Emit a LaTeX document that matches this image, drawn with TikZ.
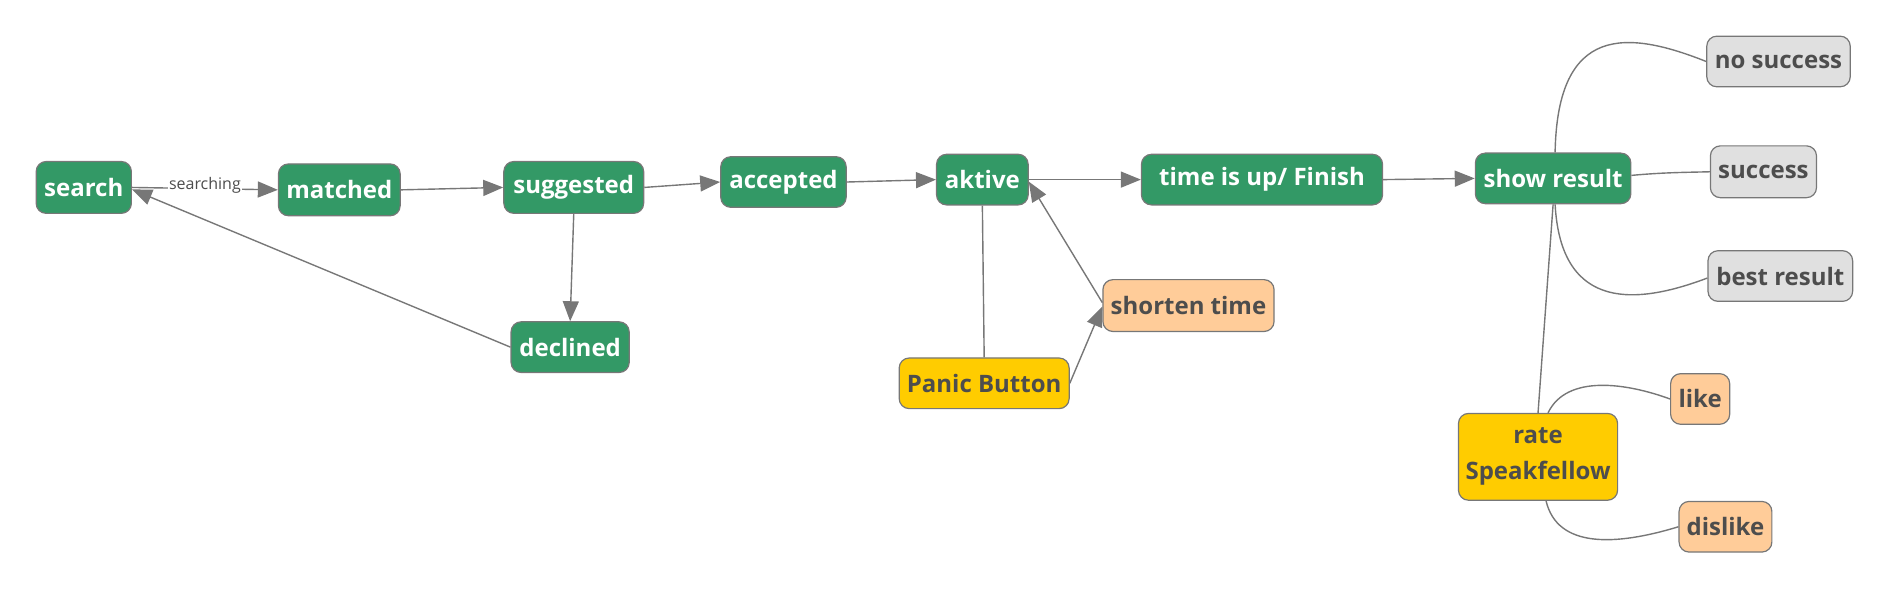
\documentclass[tikz,border=0pt]{standalone}
\usepackage{fontspec}
\setmainfont{Open Sans}
\usetikzlibrary{arrows.meta}
\definecolor{grn}{HTML}{339966}
\definecolor{ylw}{HTML}{FFCC00}
\definecolor{org}{HTML}{FFCC99}
\definecolor{gry}{HTML}{E0E0E0}
\definecolor{edge}{HTML}{777777}
\definecolor{txt}{HTML}{4D4D4D}
\begin{document}
\begin{tikzpicture}[x=0.60268pt,y=-0.60268pt,
  wh/.style 2 args={minimum width=#1*0.60268pt,minimum height=#2*0.60268pt},
  box/.style={draw=edge,line width=0.6pt,rounded corners=5pt,inner sep=0pt,align=center,font=\fontsize{12}{18}\selectfont\bfseries},
  gbox/.style={box,fill=grn,text=white},
  ybox/.style={box,fill=ylw,text=txt},
  obox/.style={box,fill=org,text=txt},
  xbox/.style={box,fill=gry,text=txt},
  conn/.style={draw=edge,line width=0.7pt},
  arr/.style={conn,-{Triangle[length=10pt,width=8pt]}}]
\useasboundingbox (0,0) rectangle (1568,490.3);
\node[gbox,wh={79}{43}] (search) at (69.5,155.5) {search};
\node[gbox,wh={101}{43}] (matched) at (281.5,157.5) {matched};
\node[gbox,wh={116}{43}] (suggested) at (476,155.5) {suggested};
\node[gbox,wh={104}{42}] (accepted) at (650,151) {accepted};
\node[gbox,wh={76}{42}] (aktive) at (815,149) {aktive};
\node[gbox,wh={200}{42}] (finish) at (1047,149) {time is up/ Finish};
\node[gbox,wh={129}{42}] (show) at (1288.5,148) {show result};
\node[xbox,wh={119}{42}] (nosucc) at (1475.5,51) {no success};
\node[xbox,wh={88}{43}] (succ) at (1463,142.5) {success};
\node[xbox,wh={120}{42}] (best) at (1477,229) {best result};
\node[gbox,wh={98}{42}] (declined) at (473,288) {declined};
\node[ybox,wh={141}{42}] (panic) at (816.5,318) {Panic Button};
\node[obox,wh={142}{43}] (shorten) at (986,253.5) {shorten time};
\node[ybox,wh={132}{72}] (rate) at (1276,379) {rate\\Speakfellow};
\node[obox,wh={49}{42}] (like) at (1410.5,331) {like};
\node[obox,wh={77}{42}] (dislike) at (1431.5,437) {dislike};

\draw[arr] (search.east) -- node[fill=white,inner sep=0.5pt,text=txt,font=\fontsize{8}{9}\selectfont,yshift=1.5pt] {searching} (matched.west);
\draw[arr] (matched.east) -- (suggested.west);
\draw[arr] (suggested.east) -- (accepted.west);
\draw[arr] (accepted.east) -- (aktive.west);
\draw[arr] (aktive.east) -- (finish.west);
\draw[arr] (finish.east) -- (show.west);
\draw[arr] (suggested.south) -- (declined.north);
\draw[arr] (declined.west) -- ([yshift=-1pt]search.east);
\draw[conn] (aktive.south) -- (panic.north);
\draw[arr] (panic.east) -- ([yshift=-0.5pt]shorten.west);
\draw[arr] ([yshift=1.5pt]shorten.west) -- ([yshift=-1pt]aktive.east);
\draw[conn] ([xshift=1pt]show.north) .. controls (1292,20) and (1350,25) .. (nosucc.west);
\draw[conn] ([yshift=1.5pt]show.east) .. controls (1380,143) and (1400,143) .. (succ.west);
\draw[conn] ([xshift=1pt]show.south) .. controls (1295,260) and (1360,252) .. ([yshift=-1pt]best.west);
\draw[conn] (show.south) -- (rate.north);
\draw[conn] ([xshift=5pt]rate.north) .. controls (1300,310) and (1350,318) .. (like.west);
\draw[conn] ([xshift=4pt]rate.south) .. controls (1292,455) and (1340,453) .. (dislike.west);
\end{tikzpicture}
\end{document}
